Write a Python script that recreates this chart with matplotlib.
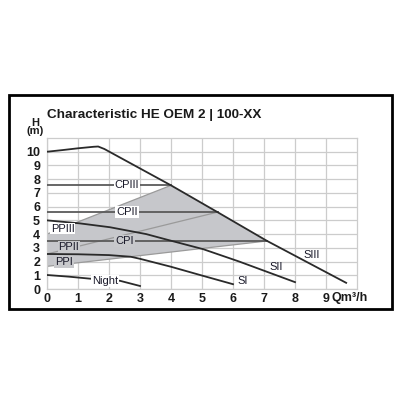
import matplotlib
matplotlib.use("Agg")
import matplotlib.pyplot as plt
from matplotlib.patches import Rectangle

plt.rcParams['font.family'] = ['Liberation Sans Narrow', 'Liberation Sans', 'DejaVu Sans']

# speed curves (flow Q m3/h, head H m)
siii_q = [0, 0.5, 1.0, 1.5, 1.65, 1.85, 4.0, 5.5, 7.1, 9.65]
siii_h = [10.0, 10.12, 10.25, 10.36, 10.38, 10.2, 7.55, 5.6, 3.5, 0.45]
sii_q = [0, 1.06, 2.03, 3.2, 3.86, 5.04, 6.2, 8.0]
sii_h = [5.0, 4.78, 4.5, 4.0, 3.6, 2.9, 2.0, 0.5]
si_q = [0, 1, 2, 2.7, 3.0, 4.0, 5.0, 6.0]
si_h = [2.55, 2.53, 2.47, 2.35, 2.2, 1.62, 0.98, 0.35]
night_q = [0, 0.7, 1.4, 2.35, 3.0]
night_h = [1.02, 0.9, 0.75, 0.6, 0.22]

# constant / proportional pressure modes (end on SIII)
cp_h = [7.55, 5.6, 3.5]
cp_end_q = [4.0, 5.5, 7.1]
pp_start_h = [4.0, 2.55, 1.65]

# text labels
curve_labels = ["CPIII", "CPII", "CPI", "PPIII", "PPII", "PPI", "SIII", "SII", "SI", "Night"]
label_q = [2.58, 2.58, 2.5, 0.5, 0.7, 0.55, 8.55, 7.4, 6.3, 1.87]
label_h = [7.55, 5.6, 3.5, 4.4, 3.05, 1.95, 2.5, 1.6, 0.6, 0.6]
label_bg = ["white", "white", "#c8c9cc", "white", "#c8c9cc", "#c8c9cc", None, None, None, "white"]

x_ticks = list(range(10))
y_ticks = list(range(11))

fig = plt.figure(figsize=(4, 4), dpi=100)
ax = fig.add_axes([0.1175, 0.2775, 0.775, 0.3775])
ax.set_xlim(0, 10)
ax.set_ylim(0, 11)

# shaded working area
fill_q = [0, cp_end_q[0], cp_end_q[1], cp_end_q[2], 0]
fill_h = [pp_start_h[0], cp_h[0], cp_h[1], cp_h[2], pp_start_h[2]]
ax.fill(fill_q, fill_h, color="#c6c7cb", zorder=1, lw=0)

ax.set_xticks(x_ticks)
ax.set_yticks(y_ticks)
ax.grid(True, color="#cccccc", lw=0.9, zorder=0.5)
ax.set_axisbelow(True)
for s in ax.spines.values():
    s.set_color("#cccccc")
    s.set_linewidth(0.9)
ax.tick_params(length=0, labelsize=9)
ax.tick_params(axis='y', pad=5)
ax.tick_params(axis='x', pad=3)
for lab in ax.get_xticklabels() + ax.get_yticklabels():
    lab.set_fontweight("bold")
    lab.set_color("#1a1a1a")

for i in range(3):
    ax.plot([0, cp_end_q[i]], [pp_start_h[i], cp_h[i]], color="#9a9a9a", lw=0.9, zorder=2)
for i in range(3):
    ax.plot([0, cp_end_q[i]], [cp_h[i], cp_h[i]], color="#5a5a5a", lw=1.3, zorder=3)

for q, h in [(siii_q, siii_h), (sii_q, sii_h), (si_q, si_h), (night_q, night_h)]:
    ax.plot(q, h, color="#2a2a2a", lw=1.3, zorder=4)

for name, q, h, bg in zip(curve_labels, label_q, label_h, label_bg):
    kw = {}
    if bg:
        kw["bbox"] = dict(facecolor=bg, edgecolor="none", pad=0.6)
    ax.text(q, h, name, fontsize=8, color="#1a1a2a", ha="center", va="center", zorder=5, **kw)

ax.text(9.17, -0.62, "Qm³/h", fontsize=9, fontweight="bold", color="#1a1a1a",
        ha="left", va="center", clip_on=False)
ax.text(-0.39, 11.8, "H\n(m)", fontsize=8, fontweight="bold", color="#1a1a1a",
        ha="center", va="center", linespacing=0.85, clip_on=False)

fig.text(0.1175, 0.7125, "Characteristic HE OEM 2 | 100-XX", fontsize=9.7,
         fontweight="bold", color="#1a1a1a", ha="left", va="center")

fig.patches.append(Rectangle((0.0225, 0.2275), 0.9575, 0.535, transform=fig.transFigure,
                             fill=False, edgecolor="black", lw=2))

fig.savefig("out.png", dpi=100, facecolor="white")
